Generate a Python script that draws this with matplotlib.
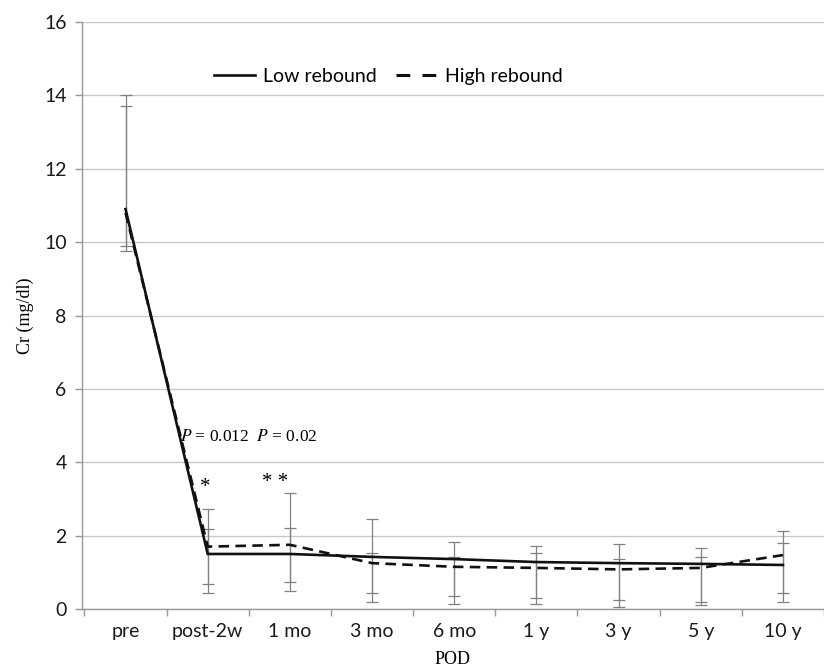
import numpy as np
import matplotlib
matplotlib.use("Agg")
import matplotlib.pyplot as plt
from matplotlib.lines import Line2D

# time points after operation
categories = ["pre", "post-2w", "1 mo", "3 mo", "6 mo", "1 y", "3 y", "5 y", "10 y"]

# mean serum creatinine (mg/dl)
low_mean = [10.9, 1.5, 1.5, 1.42, 1.36, 1.28, 1.25, 1.23, 1.2]
high_mean = [10.8, 1.7, 1.75, 1.25, 1.15, 1.12, 1.08, 1.12, 1.47]

# error bar ends read from the caps
low_upper = [14.0, 2.18, 2.2, 1.52, 1.42, 1.53, 1.36, 1.42, 1.8]
low_lower = [9.75, 0.44, 0.49, 0.2, 0.14, 0.14, 0.06, 0.11, 0.19]
high_upper = [13.7, 2.72, 3.16, 2.45, 1.83, 1.72, 1.77, 1.66, 2.12]
high_lower = [9.9, 0.68, 0.73, 0.44, 0.35, 0.3, 0.25, 0.19, 0.44]

y_ticks = [0, 2, 4, 6, 8, 10, 12, 14, 16]

tick_font = "Lato"
serif_font = "Liberation Serif"
plt.rcParams["mathtext.fontset"] = "stix"

fig = plt.figure(figsize=(8.24, 6.71), dpi=100)
ax = fig.add_axes([0.0995, 0.0924, 0.9005, 0.8748])

x = np.arange(len(categories))
low_mean = np.array(low_mean)
high_mean = np.array(high_mean)

# error bars (thin grey)
for mean, up, lo in [(low_mean, low_upper, low_lower), (high_mean, high_upper, high_lower)]:
    yerr = [mean - np.array(lo), np.array(up) - mean]
    ax.errorbar(x, mean, yerr=yerr, fmt="none", ecolor="#808080",
                elinewidth=0.9, capsize=4, capthick=0.9, zorder=2)

ax.plot(x, low_mean, color="#111111", lw=1.9, solid_joinstyle="miter", zorder=3)
ax.plot(x, high_mean, color="#111111", lw=1.9, dashes=(4, 2.4), zorder=3)

ax.set_xlim(-0.53, 8.38)
ax.set_ylim(0, 16)
ax.set_yticks(y_ticks)
ax.set_yticklabels([str(t) for t in y_ticks], fontfamily=tick_font, fontsize=14, color="#1a1a1a")
ax.set_xticks(x)
ax.set_xticklabels(categories, fontfamily=tick_font, fontsize=14, color="#1a1a1a")
ax.set_xticks(np.arange(-0.5, len(categories), 1), minor=True)
ax.tick_params(axis="x", which="major", length=0, pad=10)
ax.tick_params(axis="x", which="minor", length=5, color="#999999", width=1)
ax.tick_params(axis="y", length=5, color="#999999", width=1, pad=6)

ax.grid(axis="y", color="#c8c8c8", lw=1)
ax.set_axisbelow(True)
for s in ["top", "right"]:
    ax.spines[s].set_visible(False)
for s in ["left", "bottom"]:
    ax.spines[s].set_color("#999999")
    ax.spines[s].set_linewidth(1)

ax.set_ylabel("Cr (mg/dl)", fontfamily=serif_font, fontsize=13, labelpad=7)
ax.set_xlabel("POD", fontfamily=serif_font, fontsize=13, labelpad=8)

# annotations
ax.text(0.66, 4.7, r"$\it{P}$ = 0.012  $\it{P}$ = 0.02", fontfamily=serif_font,
        fontsize=12.5, va="center", ha="left")
ax.text(0.97, 3.3, "*", fontfamily=serif_font, fontsize=15, ha="center", va="center")
ax.text(1.82, 3.45, "* *", fontfamily=serif_font, fontsize=15, ha="center", va="center")

handles = [Line2D([], [], color="#111111", lw=1.9),
           Line2D([], [], color="#111111", lw=2.2, dashes=(4.5, 4))]
leg = ax.legend(handles, ["Low rebound", "High rebound"], ncol=2, frameon=False,
                loc="center left", bbox_to_anchor=(0.155, 0.907),
                prop={"family": tick_font, "size": 14}, handlelength=2.1,
                columnspacing=1.0, handletextpad=0.4)

fig.savefig("out.png", dpi=100)
